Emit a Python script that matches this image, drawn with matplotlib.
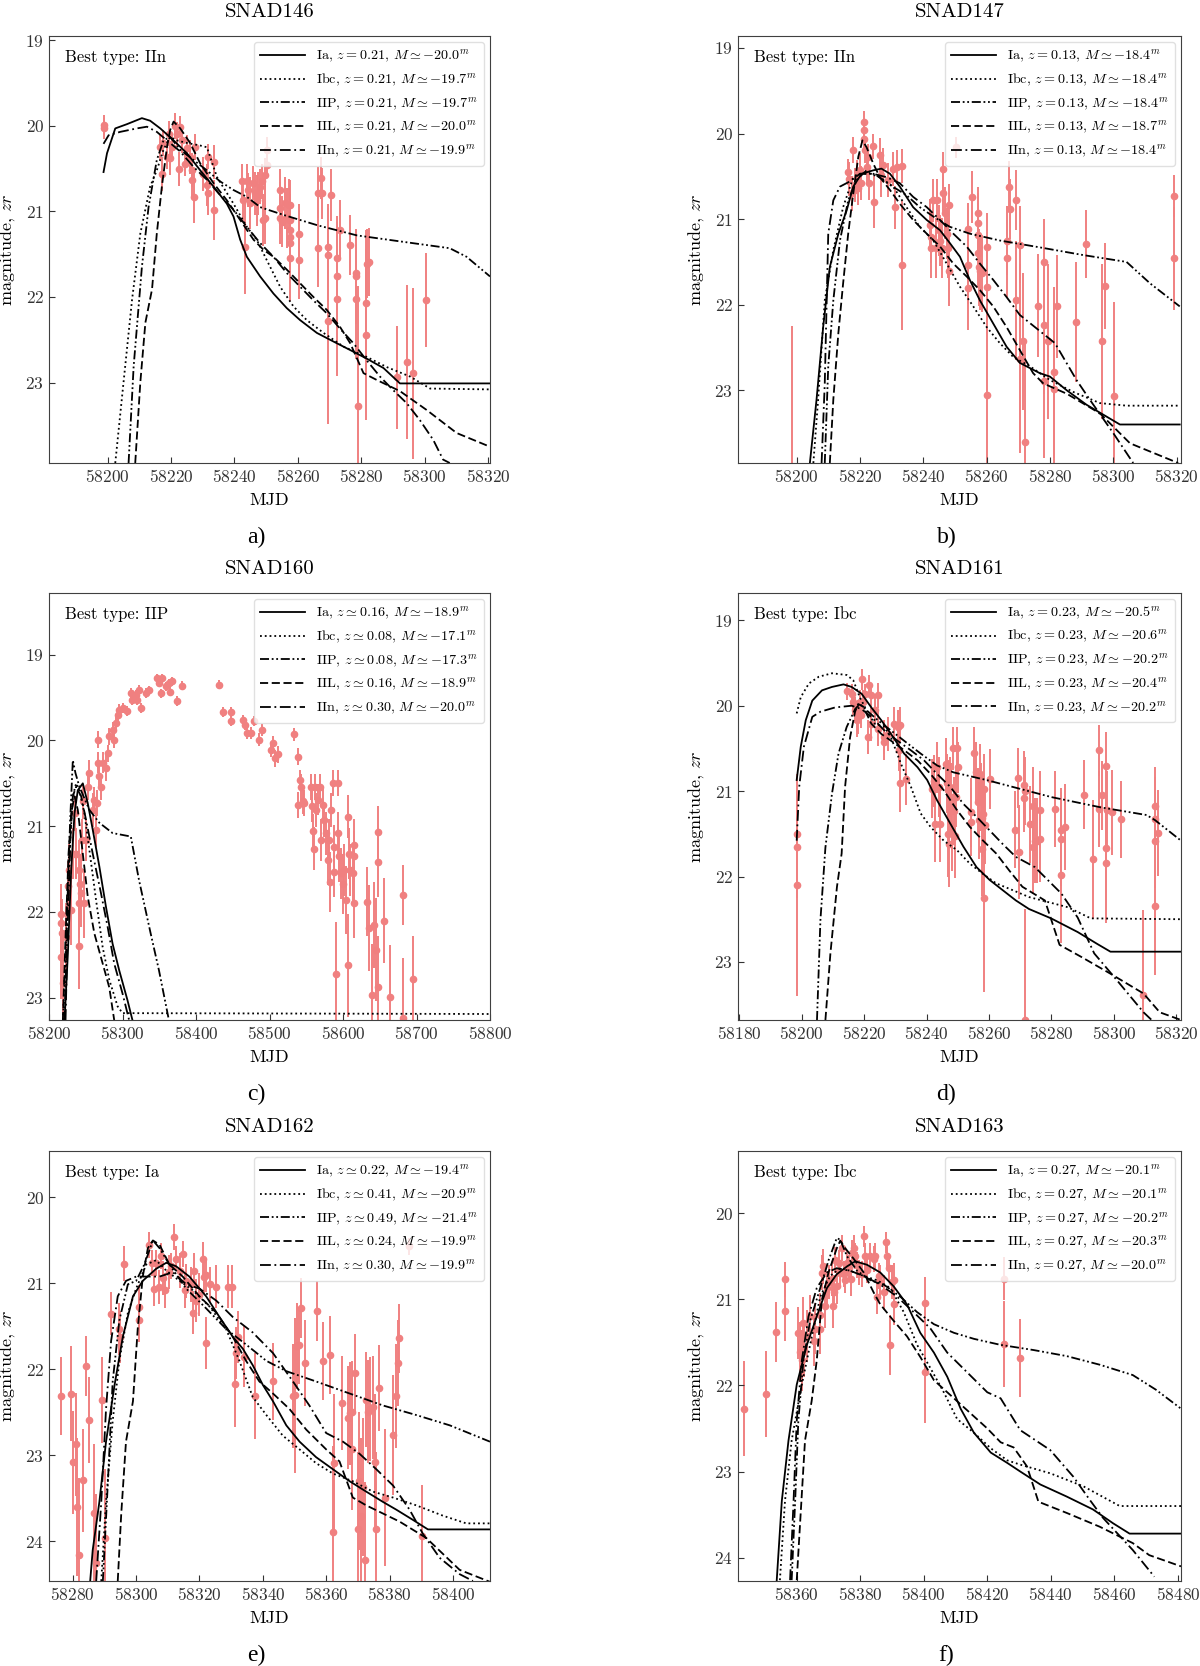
#!/usr/bin/env python3

import matplotlib
matplotlib.use("Agg")
import matplotlib.pyplot as plt
from matplotlib.ticker import MultipleLocator

# ======================================================
# STYLE
# ======================================================

plt.rcParams["font.family"] = "serif"
plt.rcParams["font.serif"] = ["cmr10", "DejaVu Serif"]
plt.rcParams["mathtext.fontset"] = "cm"
plt.rcParams["axes.formatter.use_mathtext"] = True

POINT = "#F08080"
W, H = 1200, 1666

TYPES = ["Ia", "Ibc", "IIP", "IIL", "IIn"]
STYLES = ["-", ":", (0, (5, 1.5, 1, 1.5, 1, 1.5)), (0, (4.5, 2)), (0, (6, 2, 1, 2))]

# ======================================================
# DATA  (MJD, magnitude zr, error)
# ======================================================

# ---------------- SNAD146 ----------------
obs146 = [
    (58198.7, 19.99, 0.12), (58198.7, 20.03, 0.12), (58216.6, 20.25, 0.15), (58217.1, 20.56, 0.2),
    (58217.6, 20.20, 0.15), (58218.7, 20.36, 0.15), (58219.2, 20.09, 0.15), (58219.7, 20.38, 0.2),
    (58220.3, 20.25, 0.15), (58221.3, 20.00, 0.15), (58221.8, 20.10, 0.15), (58222.4, 20.50, 0.2),
    (58222.9, 20.01, 0.12), (58223.4, 20.17, 0.15), (58224.5, 20.44, 0.15), (58225.0, 20.26, 0.15),
    (58226.0, 20.36, 0.2), (58226.6, 20.63, 0.2), (58227.1, 20.83, 0.3), (58227.6, 20.25, 0.15),
    (58226.6, 20.52, 0.2), (58230.2, 20.56, 0.2), (58231.3, 20.69, 0.25), (58231.8, 20.79, 0.25),
    (58231.8, 20.36, 0.15), (58233.4, 20.42, 0.2), (58233.4, 20.98, 0.35), (58242.3, 20.65, 0.2),
    (58242.8, 20.87, 0.25), (58243.4, 21.41, 0.55), (58243.9, 20.65, 0.2), (58244.4, 20.75, 0.2),
    (58244.9, 20.90, 0.3), (58246.0, 20.67, 0.2), (58246.5, 20.79, 0.25), (58247.0, 20.87, 0.3),
    (58247.5, 20.79, 0.25), (58248.1, 20.71, 0.2), (58248.6, 20.65, 0.2), (58249.1, 21.10, 0.3),
    (58249.6, 21.08, 0.3), (58249.6, 20.58, 0.2), (58250.2, 20.46, 0.15), (58250.2, 20.28, 0.15),
    (58254.4, 20.75, 0.25), (58254.4, 20.96, 0.3), (58254.4, 21.08, 0.3), (58254.9, 21.12, 0.3),
    (58256.0, 20.90, 0.3), (58256.5, 21.08, 0.35), (58257.1, 20.92, 0.3), (58257.4, 21.22, 0.35),
    (58257.6, 21.30, 0.4), (58257.6, 21.37, 0.4), (58257.6, 21.55, 0.5), (58257.6, 21.10, 0.3),
    (58257.6, 20.93, 0.3), (58260.5, 21.26, 0.35), (58260.5, 21.57, 0.45), (58266.5, 21.43, 0.45),
    (58266.5, 20.78, 0.3), (58267.2, 20.61, 0.25), (58267.6, 20.79, 0.3), (58269.4, 21.41, 0.5),
    (58269.4, 21.51, 0.55), (58269.4, 22.28, 1.2), (58270.5, 20.81, 0.3), (58272.2, 21.55, 0.5),
    (58272.2, 21.76, 0.6), (58272.2, 22.02, 0.9), (58273.3, 21.22, 0.35), (58276.3, 21.39, 0.35),
    (58278.4, 21.72, 0.5), (58278.4, 21.76, 0.55), (58278.4, 22.02, 0.7), (58279.1, 23.27, 1.4),
    (58281.4, 22.44, 1.0), (58281.4, 22.07, 0.85), (58281.8, 21.61, 0.4), (58282.5, 21.59, 0.4),
    (58291.2, 22.94, 0.6), (58294.4, 22.76, 0.9), (58296.4, 22.89, 1.0), (58300.3, 22.04, 0.55),
]
ia146 = [(58198.7, 20.54), (58199.8, 20.32), (58202.4, 20.03), (58206.1, 19.98), (58210.8, 19.91),
         (58213.4, 19.94), (58216.6, 20.03), (58220.8, 20.17), (58225.0, 20.32), (58229.2, 20.52),
         (58233.4, 20.71), (58237.6, 20.91), (58239.7, 21.06), (58241.8, 21.33), (58243.9, 21.53),
         (58248.1, 21.76), (58252.3, 21.96), (58256.5, 22.13), (58260.7, 22.27), (58266.0, 22.42),
         (58271.2, 22.52), (58276.5, 22.62), (58281.7, 22.72), (58287.0, 22.83), (58292.2, 23.01),
         (58320.6, 23.01)]
ibc146 = [(58202.4, 23.94), (58205.0, 23.00), (58207.7, 22.03), (58210.3, 21.26), (58213.4, 20.71),
          (58215.5, 20.52), (58217.6, 20.28), (58219.7, 20.13), (58221.8, 20.17), (58225.0, 20.20),
          (58229.2, 20.23), (58231.3, 20.25), (58234.5, 20.60), (58239.7, 20.91), (58243.9, 21.18),
          (58247.0, 21.33), (58250.2, 21.57), (58254.4, 21.88), (58258.6, 22.11), (58262.8, 22.27),
          (58268.1, 22.42), (58274.4, 22.58), (58281.7, 22.70), (58288.1, 22.82), (58295.4, 22.93),
          (58301.7, 23.07), (58320.6, 23.08)]
iip146 = [(58206.6, 23.94), (58208.2, 22.81), (58210.8, 21.65), (58212.9, 20.95), (58215.5, 20.40),
          (58217.6, 20.17), (58219.7, 20.13), (58222.9, 20.28), (58227.1, 20.40), (58231.3, 20.52),
          (58235.5, 20.65), (58239.7, 20.75), (58243.9, 20.83), (58248.1, 20.95), (58255.4, 21.04),
          (58266.0, 21.16), (58278.6, 21.28), (58292.2, 21.35), (58307.9, 21.43), (58313.2, 21.53),
          (58320.6, 21.76)]
iil146 = [(58208.7, 23.94), (58210.3, 23.00), (58211.9, 22.30), (58214.0, 21.91), (58215.5, 21.26),
          (58217.1, 20.71), (58218.7, 20.25), (58219.7, 20.05), (58220.8, 19.95), (58222.9, 20.03),
          (58226.0, 20.20), (58229.2, 20.44), (58233.4, 20.67), (58237.6, 20.87), (58241.8, 21.10),
          (58246.0, 21.33), (58249.2, 21.45), (58252.3, 21.53), (58256.5, 21.68), (58260.7, 21.84),
          (58264.9, 22.00), (58269.1, 22.15), (58273.3, 22.35), (58276.5, 22.54), (58280.7, 22.89),
          (58284.9, 22.97), (58292.2, 23.10), (58300.6, 23.32), (58310.1, 23.59), (58320.6, 23.75)]
iin146 = [(58198.7, 20.21), (58200.3, 20.11), (58204.0, 20.07), (58209.2, 20.03), (58212.4, 20.01),
          (58215.5, 20.07), (58218.7, 20.17), (58222.9, 20.30), (58227.1, 20.48), (58231.3, 20.63),
          (58235.5, 20.81), (58239.7, 20.98), (58243.9, 21.18), (58248.1, 21.37), (58252.3, 21.53),
          (58256.5, 21.72), (58260.7, 21.88), (58264.9, 22.04), (58269.1, 22.19), (58273.3, 22.37),
          (58277.5, 22.54), (58281.7, 22.74), (58285.9, 22.93), (58290.1, 23.09), (58294.3, 23.24),
          (58298.5, 23.44), (58302.7, 23.67), (58305.8, 23.90), (58307.9, 23.94)]
z146 = ["= 0.21", "= 0.21", "= 0.21", "= 0.21", "= 0.21"]
m146 = ["-20.0", "-19.7", "-19.7", "-20.0", "-19.9"]

# ---------------- SNAD147 ----------------
obs147 = [
    (58198.5, 24.40, 2.15), (58216.3, 20.45, 0.15), (58216.6, 20.53, 0.2), (58217.4, 20.70, 0.2),
    (58217.9, 20.19, 0.15), (58218.4, 20.60, 0.2), (58219.0, 20.51, 0.2), (58219.5, 20.64, 0.2),
    (58220.0, 20.43, 0.2), (58220.5, 20.58, 0.2), (58221.3, 19.86, 0.12), (58221.3, 19.96, 0.12),
    (58221.3, 20.06, 0.15), (58221.7, 20.19, 0.15), (58222.1, 20.39, 0.2), (58222.6, 20.27, 0.15),
    (58223.0, 20.58, 0.2), (58224.2, 20.15, 0.15), (58224.4, 20.80, 0.3), (58226.3, 20.25, 0.2),
    (58226.8, 20.49, 0.25), (58227.4, 20.37, 0.2), (58228.9, 20.54, 0.2), (58230.5, 20.41, 0.2),
    (58231.0, 20.86, 0.25), (58231.6, 20.39, 0.2), (58233.4, 20.38, 0.2), (58233.4, 21.54, 0.75),
    (58242.1, 21.07, 0.3), (58242.3, 21.34, 0.35), (58242.6, 21.21, 0.3), (58243.2, 20.78, 0.25),
    (58243.9, 21.34, 0.35), (58244.5, 20.78, 0.25), (58244.9, 21.13, 0.3), (58245.3, 21.25, 0.3),
    (58245.8, 21.34, 0.35), (58246.3, 20.41, 0.2), (58246.3, 20.70, 0.25), (58246.8, 20.93, 0.3),
    (58247.4, 21.17, 0.3), (58247.9, 21.34, 0.35), (58248.2, 20.84, 0.25), (58248.2, 21.61, 0.4),
    (58250.3, 20.16, 0.12), (58254.2, 21.11, 0.3), (58254.2, 21.54, 0.45), (58254.2, 21.80, 0.5),
    (58255.3, 20.74, 0.3), (58257.2, 20.93, 0.3), (58257.2, 21.05, 0.35), (58257.4, 21.19, 0.35),
    (58257.4, 21.40, 0.4), (58257.7, 21.56, 0.45), (58258.0, 21.61, 0.45), (58258.5, 21.63, 0.45),
    (58260.2, 21.33, 0.4), (58260.2, 21.79, 0.55), (58260.2, 23.05, 1.2), (58266.3, 21.25, 0.4),
    (58266.3, 21.46, 0.45), (58267.2, 20.62, 0.3), (58267.4, 20.88, 0.35), (58269.3, 20.78, 0.35),
    (58269.3, 21.95, 0.7), (58270.4, 21.30, 0.45), (58270.5, 22.63, 1.1), (58271.6, 22.43, 0.8),
    (58272.1, 23.60, 1.2), (58276.3, 22.01, 0.6), (58278.2, 21.50, 0.5), (58278.2, 22.24, 0.8),
    (58279.3, 22.43, 0.9), (58278.2, 22.89, 0.9), (58281.3, 22.79, 1.0), (58281.3, 22.98, 1.0),
    (58282.1, 22.02, 0.6), (58288.2, 22.20, 0.7), (58291.4, 21.29, 0.4), (58296.3, 22.43, 0.9),
    (58297.4, 21.78, 0.5), (58300.3, 23.07, 1.1), (58319.2, 20.73, 0.25), (58319.2, 21.46, 0.6),
]
ia147 = [(58204.2, 23.85), (58206.3, 23.11), (58208.4, 22.26), (58210.5, 21.56), (58213.2, 21.17),
         (58215.8, 20.90), (58217.9, 20.62), (58220.5, 20.47), (58224.2, 20.43), (58226.8, 20.41),
         (58229.5, 20.47), (58232.6, 20.62), (58236.8, 20.86), (58241.1, 21.01), (58245.3, 21.13),
         (58248.4, 21.28), (58251.6, 21.44), (58254.7, 21.71), (58257.9, 21.95), (58262.1, 22.22),
         (58266.3, 22.49), (58270.5, 22.68), (58276.8, 22.80), (58280.0, 22.84), (58285.3, 23.00),
         (58291.6, 23.17), (58302.1, 23.40), (58321.0, 23.40)]
ibc147 = [(58205.3, 23.85), (58206.8, 23.11), (58208.9, 21.95), (58211.6, 21.36), (58214.7, 20.86),
          (58217.9, 20.51), (58220.0, 20.47), (58223.2, 20.47), (58226.3, 20.51), (58230.5, 20.62),
          (58234.7, 20.86), (58238.9, 21.09), (58243.2, 21.25), (58247.4, 21.52), (58251.6, 21.79),
          (58255.8, 22.02), (58260.0, 22.26), (58264.2, 22.45), (58268.4, 22.61), (58273.7, 22.72),
          (58280.0, 22.88), (58287.4, 23.02), (58295.8, 23.15), (58304.2, 23.18), (58321.0, 23.18)]
iip147 = [(58208.9, 23.85), (58210.0, 22.72), (58211.6, 21.95), (58213.7, 21.25), (58216.3, 20.78),
          (58219.0, 20.54), (58222.1, 20.43), (58225.3, 20.49), (58229.5, 20.60), (58234.7, 20.72),
          (58238.9, 20.86), (58243.2, 20.97), (58248.4, 21.09), (58254.7, 21.17), (58264.2, 21.25),
          (58276.8, 21.33), (58290.5, 21.42), (58304.2, 21.50), (58311.6, 21.75), (58321.0, 22.02)]
iil147 = [(58210.5, 23.85), (58211.6, 23.11), (58213.2, 22.33), (58214.7, 21.75), (58216.3, 21.17),
          (58217.9, 20.70), (58219.5, 20.27), (58220.8, 20.08), (58222.1, 20.16), (58224.2, 20.35),
          (58226.3, 20.51), (58229.5, 20.66), (58232.6, 20.82), (58236.8, 21.01), (58241.1, 21.17),
          (58245.3, 21.32), (58249.5, 21.52), (58253.7, 21.67), (58257.9, 21.83), (58262.1, 22.02),
          (58266.3, 22.26), (58270.5, 22.53), (58274.7, 22.80), (58277.9, 22.92), (58285.3, 23.04),
          (58295.8, 23.27), (58305.3, 23.62), (58320.5, 23.85)]
iin147 = [(58207.9, 23.85), (58208.9, 22.92), (58210.0, 21.17), (58211.6, 20.78), (58213.7, 20.62),
          (58216.8, 20.56), (58220.0, 20.47), (58224.2, 20.47), (58228.4, 20.51), (58232.6, 20.58),
          (58236.8, 20.74), (58241.1, 20.86), (58245.3, 21.01), (58249.5, 21.17), (58253.7, 21.32),
          (58257.9, 21.52), (58262.1, 21.71), (58266.3, 21.91), (58270.5, 22.12), (58281.6, 22.45),
          (58288.4, 22.88), (58292.6, 23.11), (58300.0, 23.50), (58306.3, 23.85)]
z147 = ["= 0.13", "= 0.13", "= 0.13", "= 0.13", "= 0.13"]
m147 = ["-18.4", "-18.4", "-18.4", "-18.7", "-18.4"]

# ---------------- SNAD160 ----------------
obs160 = [
    (58215.8, 22.02, 0.35), (58215.8, 22.13, 0.35), (58217.6, 22.25, 0.4), (58216.7, 22.52, 0.5),
    (58219.0, 22.83, 0.6), (58225.7, 21.70, 0.3), (58223.4, 22.29, 0.4), (58227.0, 21.51, 0.3),
    (58230.2, 21.98, 0.4), (58232.4, 21.32, 0.3), (58234.7, 20.85, 0.2), (58236.9, 21.32, 0.3),
    (58240.5, 21.51, 0.35), (58241.4, 21.90, 0.4), (58241.4, 22.40, 0.5), (58242.8, 21.67, 0.35),
    (58243.7, 21.78, 0.4), (58245.0, 21.16, 0.25), (58245.9, 20.71, 0.2), (58248.2, 21.90, 0.4),
    (58250.5, 21.16, 0.25), (58252.7, 20.54, 0.15), (58255.0, 20.38, 0.15), (58259.5, 20.81, 0.2),
    (58261.7, 20.69, 0.15), (58264.0, 21.04, 0.2), (58265.3, 20.73, 0.15), (58266.2, 19.99, 0.1),
    (58267.1, 20.26, 0.12), (58268.5, 20.42, 0.12), (58270.7, 20.54, 0.15), (58273.0, 20.26, 0.12),
    (58277.5, 20.32, 0.15), (58279.7, 20.15, 0.1), (58282.0, 19.95, 0.1), (58286.5, 19.88, 0.1),
    (58288.7, 19.99, 0.1), (58291.0, 19.80, 0.08), (58293.3, 19.70, 0.08), (58295.5, 19.64, 0.06),
    (58300.0, 19.62, 0.06), (58305.9, 19.66, 0.06), (58311.3, 19.45, 0.06), (58313.5, 19.53, 0.06),
    (58318.0, 19.47, 0.06), (58320.3, 19.53, 0.06), (58322.5, 19.41, 0.06), (58324.8, 19.62, 0.06),
    (58331.5, 19.45, 0.06), (58336.0, 19.41, 0.05), (58347.3, 19.27, 0.05), (58349.6, 19.33, 0.05),
    (58351.8, 19.45, 0.05), (58354.1, 19.27, 0.05), (58358.6, 19.37, 0.05), (58363.1, 19.33, 0.05),
    (58365.3, 19.43, 0.05), (58367.6, 19.31, 0.05), (58374.3, 19.54, 0.06), (58381.1, 19.36, 0.05),
    (58430.7, 19.35, 0.05), (58437.4, 19.67, 0.06), (58447.8, 19.67, 0.06), (58447.8, 19.77, 0.06),
    (58464.4, 19.76, 0.06), (58466.7, 19.82, 0.06), (58468.9, 19.91, 0.07), (58474.8, 19.91, 0.07),
    (58479.3, 19.77, 0.06), (58486.0, 19.99, 0.08), (58490.1, 19.88, 0.07), (58501.8, 20.11, 0.08),
    (58505.0, 20.03, 0.08), (58507.2, 20.21, 0.1), (58511.8, 20.16, 0.1), (58533.4, 19.93, 0.08),
    (58538.8, 20.19, 0.1), (58538.8, 20.75, 0.15), (58541.0, 20.46, 0.12), (58543.3, 20.54, 0.15),
    (58545.5, 20.71, 0.15), (58546.9, 20.73, 0.15), (58556.8, 20.54, 0.15), (58557.8, 20.77, 0.18),
    (58559.1, 21.06, 0.2), (58560.4, 21.26, 0.25), (58561.3, 20.54, 0.15), (58563.6, 20.81, 0.2),
    (58565.8, 20.69, 0.18), (58568.1, 20.54, 0.15), (58569.4, 21.16, 0.25), (58572.6, 20.75, 0.2),
    (58574.8, 20.93, 0.2), (58577.1, 21.08, 0.25), (58579.3, 21.39, 0.3), (58581.6, 21.16, 0.25),
    (58582.5, 21.65, 0.35), (58583.8, 20.81, 0.2), (58586.1, 20.50, 0.15), (58587.4, 21.24, 0.25),
    (58588.3, 21.53, 0.3), (58590.6, 22.72, 0.6), (58592.8, 20.50, 0.15), (58593.7, 21.08, 0.25),
    (58595.1, 21.35, 0.3), (58597.3, 21.55, 0.3), (58599.6, 21.67, 0.35), (58601.8, 21.51, 0.3),
    (58604.1, 21.86, 0.4), (58606.3, 20.89, 0.25), (58607.2, 22.62, 0.6), (58608.6, 21.32, 0.3),
    (58609.9, 21.51, 0.3), (58613.1, 21.55, 0.35), (58615.3, 21.22, 0.3), (58615.3, 21.35, 0.3),
    (58615.3, 21.90, 0.4), (58632.5, 21.88, 0.4), (58635.6, 22.19, 0.5), (58638.8, 22.97, 0.6),
    (58641.5, 22.15, 0.5), (58644.6, 22.44, 0.6), (58648.2, 21.07, 0.3), (58648.2, 21.42, 0.4),
    (58648.2, 22.88, 0.6), (58655.9, 22.10, 0.5), (58664.0, 22.99, 0.6), (58682.0, 21.80, 0.35),
    (58682.0, 23.24, 0.7), (58695.5, 22.78, 0.5),
]
ia160 = [(58221.2, 23.26), (58225.7, 22.48), (58230.2, 21.51), (58234.7, 20.85), (58239.2, 20.58),
         (58246.0, 20.50), (58252.7, 20.73), (58259.5, 21.04), (58268.5, 21.47), (58277.5, 21.94),
         (58286.5, 22.37), (58295.5, 22.68), (58306.8, 23.03), (58313.5, 23.26)]
ibc160 = [(58218.9, 23.26), (58223.4, 22.29), (58227.9, 21.32), (58232.4, 20.65), (58236.9, 20.50),
          (58241.4, 20.58), (58248.2, 20.85), (58255.0, 21.28), (58264.0, 21.86), (58273.0, 22.41),
          (58282.0, 22.79), (58293.3, 23.10), (58300.0, 23.18), (58800.0, 23.19)]
iip160 = [(58221.2, 23.26), (58225.7, 21.70), (58228.8, 20.93), (58232.4, 20.23), (58236.0, 20.38),
          (58241.4, 20.54), (58255.0, 20.81), (58268.5, 20.96), (58286.5, 21.08), (58311.3, 21.12),
          (58322.5, 21.63), (58338.3, 22.25), (58349.6, 22.68), (58363.1, 23.26)]
iil160 = [(58218.9, 23.26), (58222.5, 22.29), (58226.6, 21.32), (58230.2, 20.85), (58234.7, 20.65),
          (58239.2, 20.81), (58246.0, 21.32), (58252.7, 21.82), (58261.7, 22.25), (58273.0, 22.60),
          (58282.0, 22.88), (58288.7, 23.26)]
iin160 = [(58222.5, 23.26), (58225.7, 22.09), (58229.3, 21.12), (58232.4, 20.65), (58236.9, 20.54),
          (58243.7, 20.65), (58250.5, 20.93), (58259.5, 21.32), (58270.7, 21.78), (58279.7, 22.17),
          (58288.7, 22.60), (58300.0, 22.95), (58309.0, 23.26)]
z160 = [r"\simeq 0.16", r"\simeq 0.08", r"\simeq 0.08", r"\simeq 0.16", r"\simeq 0.30"]
m160 = ["-18.9", "-17.1", "-17.3", "-18.9", "-20.0"]

# ---------------- SNAD161 ----------------
obs161 = [
    (58198.4, 21.50, 0.5), (58198.4, 21.65, 0.6), (58198.4, 22.10, 1.3), (58214.4, 19.83, 0.1),
    (58216.0, 19.86, 0.12), (58216.5, 19.96, 0.15), (58217.1, 20.05, 0.15), (58217.6, 20.17, 0.2),
    (58218.1, 20.13, 0.2), (58218.6, 19.96, 0.15), (58219.0, 20.11, 0.15), (58219.4, 19.69, 0.12),
    (58219.7, 19.96, 0.15), (58220.2, 19.86, 0.12), (58221.3, 20.37, 0.2), (58221.6, 19.76, 0.12),
    (58222.1, 19.88, 0.15), (58222.3, 20.21, 0.2), (58223.4, 20.05, 0.15), (58224.4, 19.88, 0.15),
    (58224.4, 20.27, 0.2), (58226.5, 20.37, 0.2), (58226.5, 20.43, 0.2), (58227.6, 20.33, 0.2),
    (58229.7, 20.21, 0.2), (58230.7, 20.25, 0.2), (58231.3, 20.52, 0.25), (58231.5, 20.22, 0.2),
    (58231.5, 20.90, 0.35), (58233.4, 20.86, 0.3), (58241.8, 20.97, 0.35), (58242.3, 20.88, 0.3),
    (58242.8, 21.38, 0.45), (58243.4, 20.72, 0.3), (58243.9, 20.95, 0.35), (58244.4, 21.38, 0.45),
    (58246.3, 20.68, 0.3), (58246.5, 20.91, 0.35), (58246.8, 20.99, 0.35), (58247.0, 21.50, 0.5),
    (58247.3, 21.62, 0.5), (58247.6, 20.95, 0.35), (58247.8, 21.07, 0.4), (58248.1, 21.48, 0.45),
    (58248.6, 20.50, 0.25), (58248.8, 21.23, 0.4), (58249.2, 21.52, 0.5), (58249.5, 21.07, 0.35),
    (58249.7, 20.50, 0.25), (58250.2, 20.72, 0.3), (58254.2, 21.25, 0.4), (58254.2, 21.36, 0.4),
    (58255.3, 20.55, 0.3), (58255.8, 20.78, 0.35), (58256.5, 21.13, 0.4), (58256.8, 21.34, 0.45),
    (58257.1, 20.80, 0.35), (58257.4, 21.07, 0.4), (58257.6, 21.68, 0.55), (58257.8, 21.32, 0.45),
    (58258.1, 21.27, 0.45), (58258.3, 20.97, 0.4), (58258.3, 22.25, 1.1), (58258.6, 21.40, 0.45),
    (58260.2, 20.86, 0.35), (58268.2, 21.45, 0.45), (58269.2, 20.85, 0.35), (58269.5, 21.71, 0.55),
    (58271.1, 20.93, 0.4), (58271.1, 21.08, 0.4), (58271.6, 21.00, 0.4), (58271.4, 23.68, 1.3),
    (58273.2, 21.39, 0.45), (58274.0, 21.17, 0.45), (58274.2, 21.65, 0.55), (58274.7, 21.58, 0.5),
    (58275.4, 21.58, 0.5), (58276.3, 21.22, 0.45), (58276.3, 21.56, 0.5), (58281.3, 21.21, 0.45),
    (58283.2, 21.46, 0.5), (58283.2, 21.56, 0.55), (58283.2, 21.98, 0.8), (58284.2, 21.42, 0.5),
    (58290.3, 21.04, 0.4), (58293.3, 21.80, 0.7), (58295.3, 20.52, 0.3), (58295.3, 21.21, 0.45),
    (58296.3, 21.05, 0.4), (58297.4, 20.71, 0.4), (58297.4, 21.67, 0.6), (58297.4, 21.84, 0.7),
    (58297.9, 21.22, 0.45), (58299.3, 21.25, 0.5), (58302.3, 21.33, 0.45), (58309.3, 23.39, 1.0),
    (58313.2, 21.17, 0.45), (58313.2, 21.33, 0.5), (58313.2, 21.58, 0.55), (58313.2, 22.35, 0.8),
    (58314.2, 21.49, 0.5),
]
ia161 = [(58198.4, 20.87), (58199.7, 20.48), (58201.3, 20.17), (58203.4, 19.94), (58206.5, 19.82),
         (58209.7, 19.78), (58213.4, 19.75), (58216.0, 19.78), (58219.2, 19.86), (58222.3, 20.02),
         (58225.5, 20.17), (58228.6, 20.33), (58232.8, 20.56), (58237.1, 20.72), (58240.2, 20.87),
         (58243.4, 21.11), (58247.6, 21.38), (58251.8, 21.65), (58256.0, 21.89), (58260.2, 22.04),
         (58264.4, 22.16), (58268.6, 22.28), (58272.8, 22.38), (58279.9, 22.49), (58288.4, 22.65),
         (58294.7, 22.79), (58298.9, 22.88), (58321.5, 22.88)]
ibc161 = [(58198.4, 20.09), (58199.7, 19.90), (58202.3, 19.74), (58205.5, 19.66), (58209.7, 19.62),
          (58214.4, 19.64), (58216.5, 19.70), (58218.6, 19.90), (58221.3, 20.09), (58223.4, 20.21),
          (58226.5, 20.25), (58228.6, 20.37), (58231.8, 20.68), (58235.0, 20.95), (58238.1, 21.26),
          (58241.3, 21.42), (58245.5, 21.58), (58249.7, 21.69), (58253.9, 21.85), (58258.1, 21.97),
          (58262.3, 22.08), (58267.6, 22.16), (58272.8, 22.24), (58285.3, 22.36), (58292.6, 22.49),
          (58321.5, 22.50)]
iip161 = [(58204.9, 23.68), (58206.0, 22.51), (58207.6, 21.66), (58209.7, 21.03), (58211.8, 20.56),
          (58214.4, 20.25), (58217.1, 20.04), (58218.6, 19.98), (58221.3, 20.07), (58224.4, 20.17),
          (58228.6, 20.29), (58232.8, 20.41), (58238.1, 20.56), (58243.4, 20.70), (58248.6, 20.78),
          (58259.2, 20.87), (58280.0, 21.07), (58295.8, 21.19), (58310.5, 21.28), (58313.2, 21.34),
          (58321.5, 21.58)]
iil161 = [(58207.6, 23.68), (58209.2, 22.90), (58211.3, 22.12), (58212.8, 21.73), (58213.9, 20.95),
          (58215.5, 20.37), (58217.1, 20.07), (58218.1, 19.98), (58219.7, 20.01), (58222.3, 20.21),
          (58225.5, 20.33), (58228.6, 20.41), (58232.8, 20.52), (58237.1, 20.64), (58241.3, 20.80),
          (58245.5, 20.99), (58249.7, 21.22), (58253.9, 21.42), (58258.1, 21.58), (58262.3, 21.73),
          (58266.5, 21.93), (58270.7, 22.12), (58277.9, 22.28), (58282.6, 22.80), (58289.5, 22.94),
          (58299.0, 23.14), (58309.5, 23.37), (58314.7, 23.59), (58321.5, 23.68)]
iin161 = [(58198.4, 21.58), (58199.2, 20.95), (58200.7, 20.48), (58203.4, 20.13), (58206.0, 20.07),
          (58210.7, 20.02), (58216.0, 20.00), (58219.2, 20.04), (58222.3, 20.13), (58226.5, 20.29),
          (58230.7, 20.41), (58234.9, 20.52), (58239.2, 20.64), (58243.4, 20.80), (58247.6, 20.95),
          (58251.8, 21.15), (58256.0, 21.30), (58260.2, 21.46), (58264.4, 21.62), (58268.6, 21.77),
          (58274.7, 21.89), (58283.2, 22.20), (58288.4, 22.48), (58293.7, 22.90), (58301.1, 23.22),
          (58309.5, 23.59), (58312.1, 23.68)]
z161 = ["= 0.23", "= 0.23", "= 0.23", "= 0.23", "= 0.23"]
m161 = ["-20.5", "-20.6", "-20.2", "-20.4", "-20.2"]

# ---------------- SNAD162 ----------------
obs162 = [
    (58276.3, 22.31, 0.45), (58279.3, 22.28, 0.55), (58280.2, 23.08, 0.6), (58281.0, 22.87, 0.6),
    (58281.3, 23.60, 0.8), (58282.1, 24.16, 0.9), (58283.2, 23.29, 0.6), (58284.2, 21.96, 0.35),
    (58285.1, 22.59, 0.5), (58286.8, 23.67, 0.8), (58287.4, 24.25, 0.8), (58289.3, 22.36, 0.5),
    (58290.3, 23.96, 0.8), (58292.1, 21.35, 0.25), (58294.7, 21.53, 0.3), (58294.9, 21.62, 0.3),
    (58296.3, 20.77, 0.2), (58301.0, 21.27, 0.25), (58301.0, 21.43, 0.25), (58304.2, 20.55, 0.15),
    (58305.1, 20.76, 0.15), (58305.8, 21.06, 0.2), (58306.3, 20.76, 0.15), (58307.2, 21.04, 0.2),
    (58307.7, 20.68, 0.15), (58308.4, 20.94, 0.2), (58309.0, 21.08, 0.2), (58310.5, 20.87, 0.2),
    (58311.1, 20.80, 0.15), (58312.1, 20.46, 0.15), (58312.6, 20.71, 0.15), (58313.7, 20.85, 0.2),
    (58314.7, 20.66, 0.15), (58315.3, 21.08, 0.2), (58315.8, 20.97, 0.2), (58317.4, 21.01, 0.2),
    (58318.1, 21.34, 0.25), (58318.4, 20.85, 0.2), (58318.9, 21.20, 0.25), (58319.8, 21.13, 0.25),
    (58321.0, 20.72, 0.2), (58321.3, 20.92, 0.2), (58321.9, 21.69, 0.3), (58322.1, 20.90, 0.2),
    (58323.2, 21.01, 0.2), (58325.3, 21.04, 0.25), (58328.9, 21.04, 0.25), (58330.3, 21.04, 0.25),
    (58331.1, 22.17, 0.5), (58331.6, 21.81, 0.3), (58332.1, 21.62, 0.3), (58334.2, 21.85, 0.35),
    (58337.4, 22.31, 0.5), (58343.2, 22.14, 0.45), (58349.5, 22.31, 0.6), (58350.0, 22.30, 0.9),
    (58350.7, 21.73, 0.5), (58351.3, 21.72, 0.45), (58352.1, 21.29, 0.35), (58353.2, 21.93, 0.5),
    (58357.2, 21.32, 0.35), (58359.0, 21.90, 0.45), (58361.1, 21.83, 0.45), (58362.1, 23.89, 1.0),
    (58362.4, 23.09, 0.8), (58365.1, 22.39, 0.55), (58366.8, 22.56, 0.6), (58367.4, 22.51, 0.6),
    (58368.2, 22.50, 0.6), (58368.2, 22.93, 0.7), (58369.0, 22.04, 0.45), (58370.0, 23.86, 0.9),
    (58370.5, 23.30, 0.8), (58371.1, 23.70, 0.9), (58371.6, 23.37, 0.8), (58372.1, 24.21, 0.9),
    (58372.6, 22.35, 0.55), (58373.2, 22.49, 0.6), (58373.9, 22.46, 0.6), (58374.7, 22.44, 0.6),
    (58375.3, 23.08, 0.8), (58375.8, 23.86, 0.9), (58376.8, 22.22, 0.5), (58378.4, 23.49, 0.8),
    (58381.1, 22.76, 0.7), (58381.9, 22.31, 0.6), (58382.6, 21.93, 0.5), (58382.9, 21.64, 0.4),
    (58386.1, 20.57, 0.1), (58390.2, 23.94, 0.6),
]
ia162 = [(58285.5, 24.46), (58286.3, 24.10), (58288.4, 23.54), (58290.5, 22.84), (58293.2, 22.18),
         (58295.8, 21.62), (58299.0, 21.15), (58302.1, 20.97), (58306.3, 20.83), (58309.5, 20.76),
         (58312.6, 20.80), (58316.8, 20.92), (58322.1, 21.15), (58326.3, 21.39), (58330.5, 21.62),
         (58333.7, 21.76), (58336.8, 21.95), (58340.0, 22.18), (58343.2, 22.37), (58347.4, 22.65),
         (58351.6, 22.84), (58356.8, 23.02), (58362.1, 23.16), (58367.4, 23.30), (58372.6, 23.42),
         (58377.9, 23.54), (58382.1, 23.63), (58387.4, 23.75), (58392.1, 23.86), (58411.7, 23.86)]
ibc162 = [(58289.0, 24.46), (58290.5, 23.54), (58292.6, 22.60), (58294.7, 21.90), (58297.4, 21.34),
          (58300.0, 21.06), (58303.2, 20.78), (58306.3, 20.73), (58309.5, 20.85), (58313.7, 20.97),
          (58317.9, 21.08), (58323.2, 21.27), (58328.4, 21.53), (58332.6, 21.90), (58336.8, 22.32),
          (58341.1, 22.53), (58346.3, 22.77), (58351.6, 22.93), (58356.8, 23.09), (58362.1, 23.21),
          (58368.4, 23.30), (58374.7, 23.42), (58381.1, 23.49), (58388.4, 23.58), (58396.8, 23.70),
          (58404.2, 23.79), (58411.7, 23.79)]
iip162 = [(58289.5, 24.46), (58291.1, 23.30), (58292.6, 22.14), (58294.7, 21.43), (58297.4, 21.01),
          (58300.0, 20.97), (58302.6, 20.78), (58305.3, 20.50), (58307.4, 20.59), (58310.5, 20.78),
          (58315.8, 21.06), (58322.1, 21.29), (58328.4, 21.53), (58334.7, 21.71), (58341.1, 21.90),
          (58347.4, 22.02), (58356.8, 22.14), (58367.4, 22.28), (58378.0, 22.42), (58388.4, 22.53),
          (58399.0, 22.65), (58411.7, 22.84)]
iil162 = [(58294.2, 24.46), (58295.3, 23.68), (58296.8, 22.84), (58299.0, 22.37), (58300.5, 21.53),
          (58302.1, 20.92), (58303.7, 20.59), (58305.3, 20.50), (58307.4, 20.55), (58310.5, 20.78),
          (58314.7, 20.92), (58320.0, 21.15), (58325.3, 21.34), (58330.5, 21.62), (58334.7, 21.90),
          (58338.9, 22.14), (58343.2, 22.28), (58348.4, 22.46), (58353.7, 22.70), (58360.0, 22.93),
          (58364.2, 23.07), (58368.4, 23.49), (58372.6, 23.58), (58383.2, 23.77), (58391.6, 23.96),
          (58402.1, 24.33), (58411.7, 24.47)]
iin162 = [(58287.4, 24.46), (58289.0, 23.54), (58290.5, 22.46), (58292.1, 21.67), (58294.2, 21.15),
          (58296.8, 20.97), (58300.0, 20.92), (58303.2, 20.92), (58307.4, 20.92), (58311.6, 20.87),
          (58315.8, 21.01), (58320.0, 21.06), (58325.3, 21.20), (58330.5, 21.39), (58336.8, 21.57),
          (58343.2, 21.81), (58349.5, 22.14), (58354.7, 22.42), (58360.0, 22.74), (58365.3, 22.84),
          (58370.5, 22.98), (58375.8, 23.16), (58381.1, 23.35), (58386.3, 23.63), (58390.5, 23.91),
          (58395.8, 24.19), (58402.1, 24.38), (58406.3, 24.46)]
z162 = [r"\simeq 0.22", r"\simeq 0.41", r"\simeq 0.49", r"\simeq 0.24", r"\simeq 0.30"]
m162 = ["-19.4", "-20.9", "-21.4", "-19.9", "-19.9"]

# ---------------- SNAD163 ----------------
obs163 = [
    (58343.5, 22.27, 0.55), (58350.3, 22.10, 0.5), (58353.4, 21.38, 0.35), (58356.4, 20.77, 0.2),
    (58356.4, 21.14, 0.35), (58360.4, 21.39, 0.3), (58361.1, 21.61, 0.35), (58361.6, 21.71, 0.35),
    (58361.9, 21.28, 0.3), (58362.3, 21.60, 0.3), (58363.2, 21.43, 0.3), (58364.2, 21.20, 0.25),
    (58365.3, 21.48, 0.3), (58365.8, 21.34, 0.3), (58367.4, 21.18, 0.25), (58367.4, 21.34, 0.3),
    (58367.9, 20.69, 0.2), (58368.4, 20.62, 0.2), (58369.0, 21.08, 0.25), (58369.5, 20.87, 0.2),
    (58370.0, 20.80, 0.2), (58371.1, 20.76, 0.2), (58371.4, 21.08, 0.25), (58371.6, 20.92, 0.2),
    (58372.1, 20.54, 0.15), (58372.6, 20.85, 0.2), (58373.2, 20.58, 0.15), (58373.7, 20.69, 0.15),
    (58374.2, 20.41, 0.15), (58375.0, 20.71, 0.15), (58375.3, 20.78, 0.15), (58375.8, 20.58, 0.15),
    (58376.3, 20.64, 0.15), (58377.1, 20.76, 0.2), (58377.4, 20.46, 0.15), (58377.9, 20.41, 0.15),
    (58378.4, 20.50, 0.15), (58379.0, 20.60, 0.15), (58379.5, 20.69, 0.15), (58380.5, 20.71, 0.15),
    (58381.3, 20.27, 0.12), (58381.6, 20.50, 0.15), (58382.1, 20.66, 0.15), (58383.2, 20.50, 0.15),
    (58384.2, 20.53, 0.15), (58384.7, 20.50, 0.15), (58385.3, 20.97, 0.2), (58385.8, 20.73, 0.15),
    (58386.3, 20.80, 0.2), (58387.4, 20.92, 0.2), (58388.2, 20.34, 0.12), (58388.4, 20.50, 0.15),
    (58389.0, 20.64, 0.15), (58389.5, 21.53, 0.35), (58390.0, 20.80, 0.2), (58390.5, 20.78, 0.2),
    (58390.5, 21.05, 0.25), (58400.3, 21.04, 0.3), (58400.3, 21.84, 0.6), (58425.2, 20.76, 0.25),
    (58425.2, 21.52, 0.5), (58430.2, 21.68, 0.45),
]
ia163 = [(58353.7, 24.26), (58355.3, 23.34), (58357.4, 22.64), (58360.0, 21.99), (58363.2, 21.53),
         (58366.3, 21.20), (58369.5, 20.87), (58372.6, 20.71), (58375.8, 20.62), (58378.4, 20.56),
         (58382.1, 20.60), (58386.3, 20.69), (58390.5, 20.85), (58394.7, 21.06), (58398.9, 21.39),
         (58403.2, 21.62), (58407.4, 21.90), (58411.6, 22.27), (58415.8, 22.55), (58421.1, 22.78),
         (58426.3, 22.90), (58430.4, 23.00), (58436.7, 23.15), (58445.0, 23.29), (58453.3, 23.44),
         (58459.6, 23.60), (58464.8, 23.72), (58481.0, 23.72)]
ibc163 = [(58354.7, 24.26), (58356.3, 23.34), (58358.4, 22.64), (58361.1, 22.08), (58364.2, 21.53),
          (58367.4, 20.97), (58370.5, 20.73), (58373.7, 20.64), (58376.8, 20.67), (58381.1, 20.73),
          (58385.3, 20.78), (58389.5, 20.87), (58393.7, 21.15), (58397.9, 21.53), (58402.1, 21.80),
          (58406.3, 22.08), (58410.5, 22.39), (58415.8, 22.55), (58421.1, 22.73), (58426.3, 22.87),
          (58430.4, 22.92), (58439.8, 23.02), (58450.2, 23.17), (58461.7, 23.40), (58481.0, 23.40)]
iip163 = [(58358.4, 24.26), (58359.5, 23.34), (58360.5, 22.41), (58362.1, 21.71), (58364.2, 21.25),
          (58367.4, 20.87), (58370.0, 20.55), (58372.6, 20.29), (58373.7, 20.31), (58375.8, 20.50),
          (58379.0, 20.67), (58383.2, 20.78), (58387.4, 20.83), (58392.6, 20.97), (58397.9, 21.15),
          (58403.2, 21.29), (58409.5, 21.39), (58415.8, 21.46), (58424.2, 21.53), (58434.6, 21.59),
          (58445.0, 21.66), (58455.4, 21.76), (58465.8, 21.88), (58473.1, 22.05), (58481.0, 22.27)]
iil163 = [(58360.0, 24.26), (58361.1, 23.57), (58362.6, 22.64), (58364.7, 22.18), (58366.3, 21.71),
          (58367.9, 21.01), (58370.0, 20.69), (58372.6, 20.41), (58373.7, 20.32), (58375.3, 20.41),
          (58377.9, 20.53), (58381.1, 20.69), (58384.2, 20.92), (58386.3, 21.06), (58390.5, 21.25),
          (58394.7, 21.43), (58398.9, 21.67), (58403.2, 21.94), (58407.4, 22.08), (58411.6, 22.22),
          (58415.8, 22.36), (58420.0, 22.50), (58424.2, 22.66), (58428.3, 22.72), (58432.5, 22.94),
          (58436.1, 23.35), (58445.0, 23.48), (58455.4, 23.64), (58465.8, 23.83), (58471.0, 23.97),
          (58481.0, 24.10)]
iin163 = [(58357.9, 24.26), (58359.0, 23.34), (58360.0, 22.41), (58361.6, 21.71), (58363.7, 21.20),
          (58366.3, 20.87), (58369.5, 20.69), (58372.6, 20.64), (58376.8, 20.67), (58381.1, 20.73),
          (58386.3, 20.83), (58391.6, 20.97), (58396.8, 21.15), (58402.1, 21.34), (58407.4, 21.62),
          (58413.7, 21.85), (58420.0, 22.08), (58424.2, 22.15), (58430.4, 22.52), (58439.8, 22.75),
          (58447.1, 23.06), (58452.3, 23.33), (58456.5, 23.54), (58465.8, 23.91), (58472.6, 24.22)]
z163 = ["= 0.27", "= 0.27", "= 0.27", "= 0.27", "= 0.27"]
m163 = ["-20.1", "-20.1", "-20.2", "-20.3", "-20.0"]

# ======================================================
# LAYOUT (pixels in a 1200x1666 canvas)
# ======================================================

COLS = [(49, 490), (738, 1181)]
ROWS = [(36, 463), (593, 1020), (1151, 1581)]

PANELS = [
    # name, obs, curves, z, M, best, xlim, ylim, xstep, col, row, tag
    ("SNAD146", obs146, [ia146, ibc146, iip146, iil146, iin146], z146, m146, "IIn",
     (58181.5, 58320.6), (23.94, 18.95), 20, 0, 0, "a)"),
    ("SNAD147", obs147, [ia147, ibc147, iip147, iil147, iin147], z147, m147, "IIn",
     (58181.5, 58321.4), (23.85, 18.86), 20, 1, 0, "b)"),
    ("SNAD160", obs160, [ia160, ibc160, iip160, iil160, iin160], z160, m160, "IIP",
     (58200, 58800), (23.26, 18.28), 100, 0, 1, "c)"),
    ("SNAD161", obs161, [ia161, ibc161, iip161, iil161, iin161], z161, m161, "Ibc",
     (58179.6, 58321.5), (23.68, 18.68), 20, 1, 1, "d)"),
    ("SNAD162", obs162, [ia162, ibc162, iip162, iil162, iin162], z162, m162, "Ia",
     (58272.5, 58411.7), (24.46, 19.46), 20, 0, 2, "e)"),
    ("SNAD163", obs163, [ia163, ibc163, iip163, iil163, iin163], z163, m163, "Ibc",
     (58341.5, 58481.0), (24.27, 19.28), 20, 1, 2, "f)"),
]

# ======================================================
# PLOT
# ======================================================

fig = plt.figure(figsize=(W / 100, H / 100), dpi=100)

for name, obs, curves, zs, ms, best, xlim, ylim, xstep, col, row, tag in PANELS:

    x0, x1 = COLS[col]
    y0, y1 = ROWS[row]
    ax = fig.add_axes([x0 / W, 1 - y1 / H, (x1 - x0) / W, (y1 - y0) / H])

    t = [o[0] for o in obs]
    m = [o[1] for o in obs]
    e = [o[2] for o in obs]

    ax.errorbar(t, m, yerr=e, fmt="o", color=POINT, ecolor=POINT,
                ms=4.5, elinewidth=1.4, capsize=0, zorder=1)

    for kind, style, crv, z, mag in zip(TYPES, STYLES, curves, zs, ms):
        ax.plot([c[0] for c in crv], [c[1] for c in crv],
                color="k", lw=1.3, linestyle=style, zorder=2,
                label=rf"{kind}, $z {z}$, $M \simeq {{{mag}}}^m$")

    ax.set_xlim(*xlim)
    ax.set_ylim(*ylim)
    ax.xaxis.set_major_locator(MultipleLocator(xstep))
    ax.yaxis.set_major_locator(MultipleLocator(1))
    ax.tick_params(direction="in", length=4, labelsize=12.5, colors="0.2")
    for s in ax.spines.values():
        s.set_color("0.25")

    ax.set_xlabel("MJD", fontsize=13)
    ax.set_ylabel("magnitude, $zr$", fontsize=13)
    ax.xaxis.set_label_coords(0.5, -30 / (y1 - y0), transform=ax.transAxes)
    ax.yaxis.set_label_coords(-32 / (x1 - x0), 0.5, transform=ax.transAxes)
    ax.xaxis.label.set_va("top")

    ax.text(0.036, 0.95, f"Best type: {best}", transform=ax.transAxes,
            fontsize=12, va="center", ha="left")

    ax.legend(loc="upper right", fontsize=10.2, handlelength=3.2,
              framealpha=0.8, edgecolor="0.85", borderaxespad=0.45,
              labelspacing=0.45)

    cx = (x0 + x1) / 2
    fig.text(cx / W, 1 - (y0 - 24) / H, name, ha="center", va="center", fontsize=15)
    fig.text((cx - 13) / W, 1 - (y1 + 74) / H, tag, ha="center", va="center",
             fontsize=17, family="Liberation Serif")

fig.savefig("out.png", dpi=100)
plt.close(fig)
print("Figure saved.")
